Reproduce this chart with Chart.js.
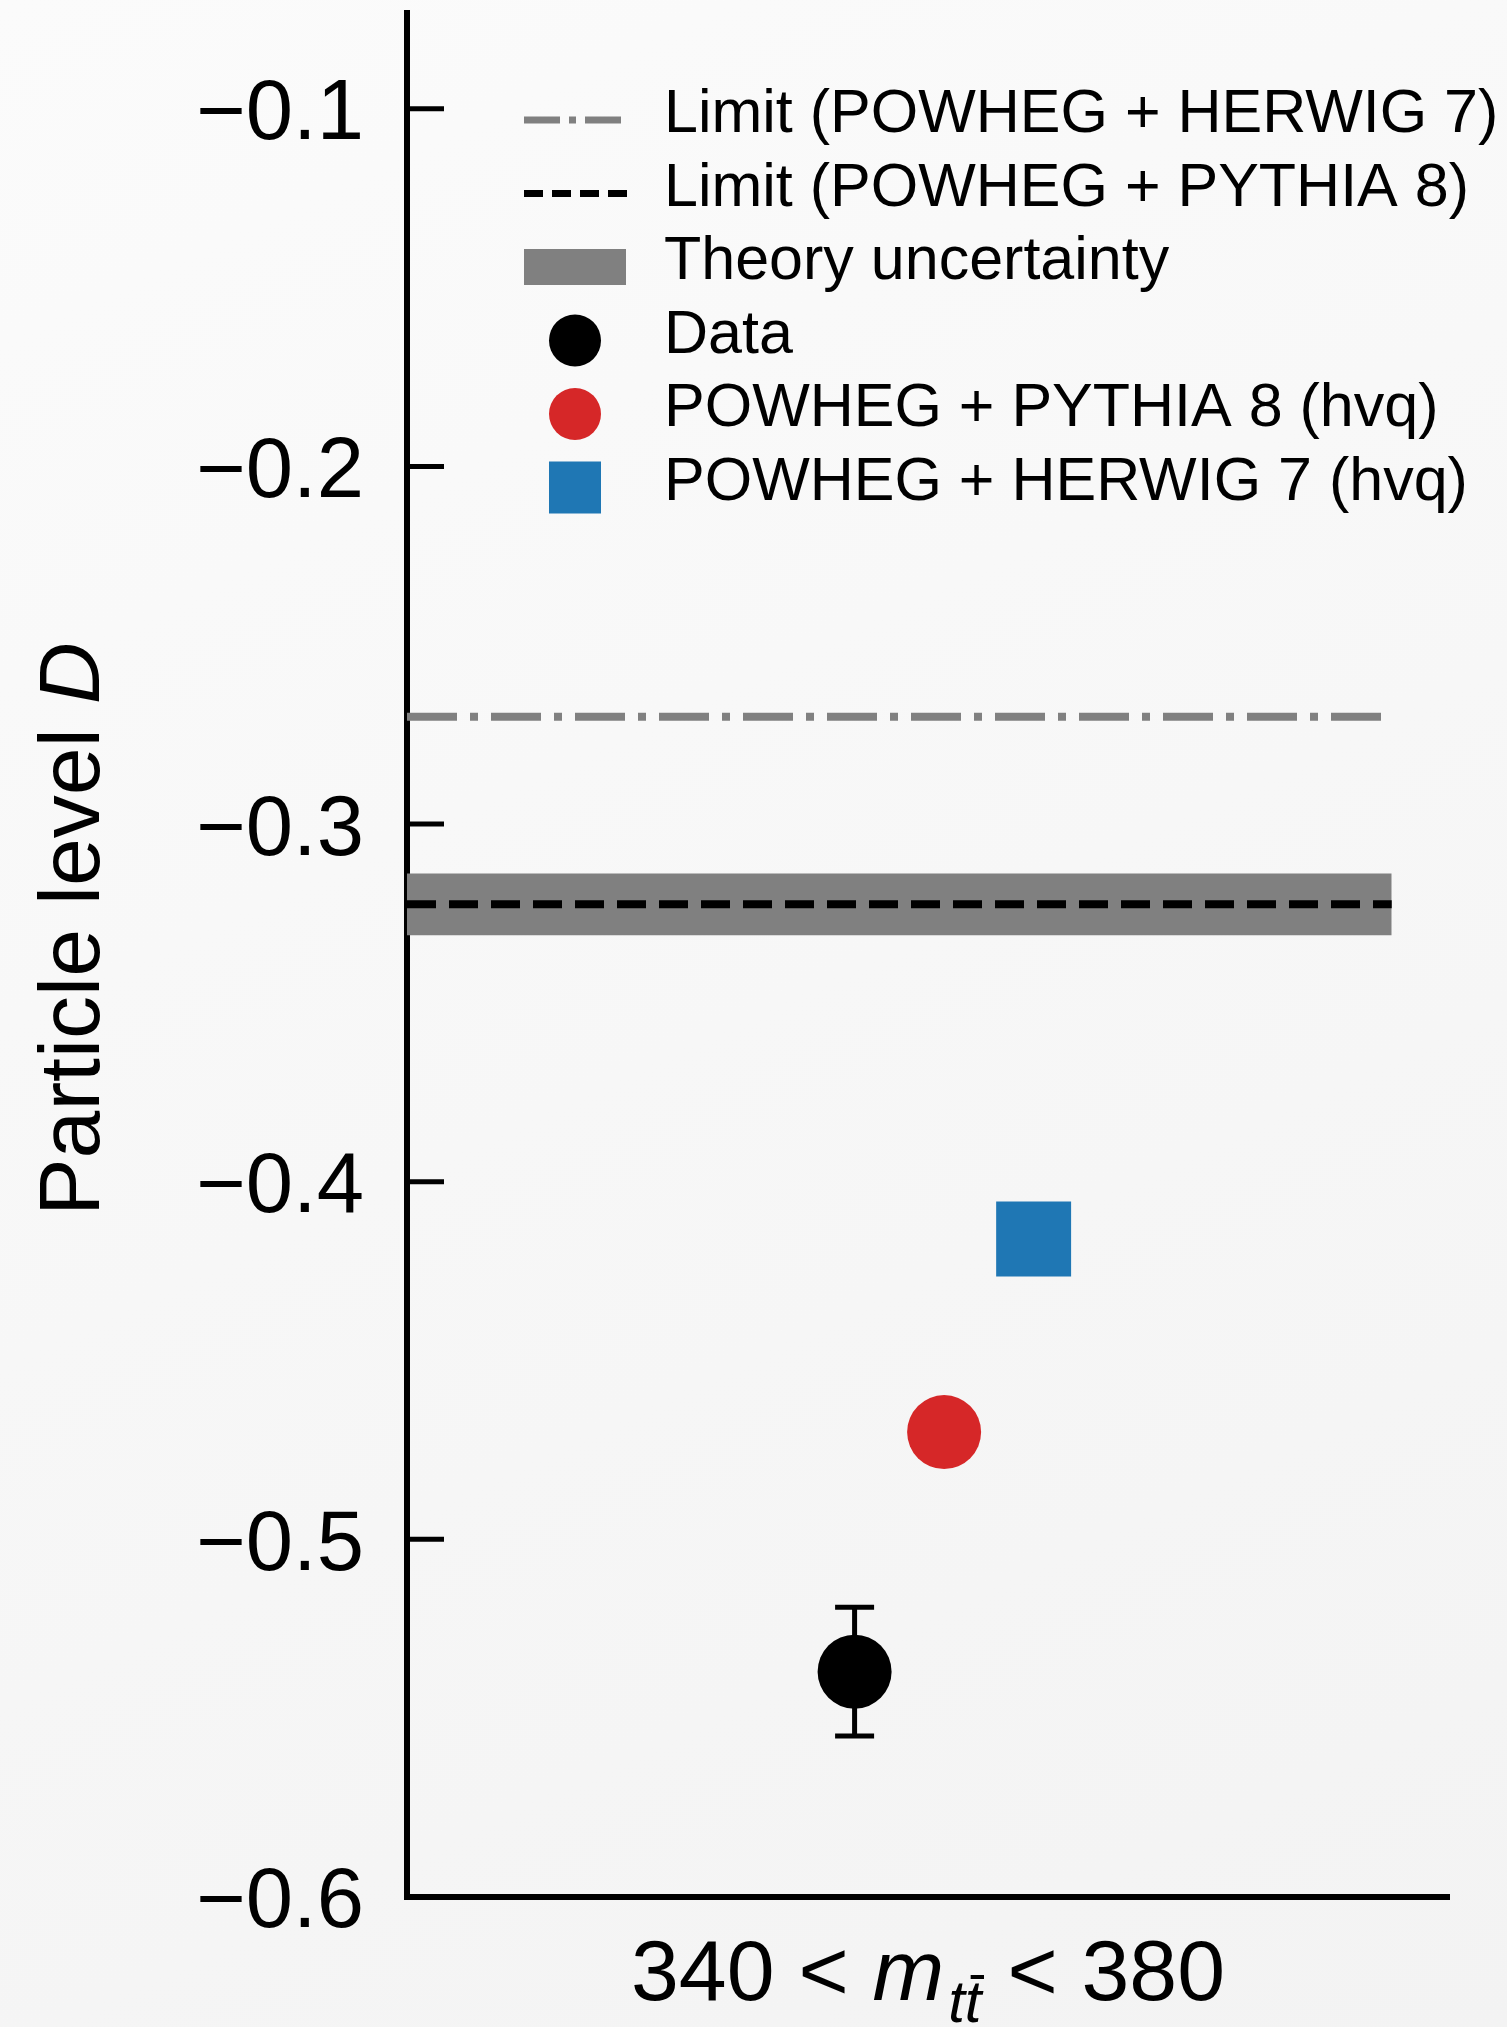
<!DOCTYPE html>
<html>
<head>
<meta charset="utf-8">
<script src="https://cdn.jsdelivr.net/npm/chart.js@4.4.1/dist/chart.umd.min.js"></script>
<style>
  html, body { margin: 0; padding: 0; }
  body {
    width: 1507px; height: 2027px; overflow: hidden;
    background: linear-gradient(155deg, #fbfbfb 0%, #f3f3f3 100%);
  }
  #wrap { position: relative; width: 1507px; height: 2027px; }
</style>
</head>
<body>
<div id="wrap"><canvas id="chart"></canvas></div>
<script>
// bin shown on the x axis
const binEdges = [340, 380];
// x positions (arbitrary offsets inside the single bin)
const pointX = [0, 0.1, 0.2];
const lineX = [-0.5, 0.6];

// values
const dataD = [-0.537];
const dataErr = [0.018];
const pythiaD = [-0.470];
const herwigD = [-0.416];
const limitHerwig = [-0.270, -0.270];
const limitPythia = [-0.3224, -0.3224];
const theoryUp = [-0.3138, -0.3138];
const theoryDown = [-0.3311, -0.3311];

const yTicks = [-0.6, -0.5, -0.4, -0.3, -0.2, -0.1];
const seriesLabels = [
  'Limit (POWHEG + HERWIG 7)',
  'Limit (POWHEG + PYTHIA 8)',
  'Theory uncertainty',
  'Data',
  'POWHEG + PYTHIA 8 (hvq)',
  'POWHEG + HERWIG 7 (hvq)'
];

const fam = '"Liberation Sans", Arial, Helvetica, sans-serif';
const GRAY = '#808080', RED = '#d62728', BLUE = '#1f77b4';

const toXY = (xs, ys) => xs.map((x, i) => ({ x: x, y: ys[i] }));

const decor = {
  id: 'decor',
  afterDraw(chart) {
    const { ctx, chartArea: a, scales: { x, y } } = chart;
    ctx.save();

    // inward y ticks
    ctx.strokeStyle = '#000';
    ctx.lineWidth = 5;
    yTicks.forEach(v => {
      const py = y.getPixelForValue(v);
      ctx.beginPath();
      ctx.moveTo(a.left, py);
      ctx.lineTo(a.left + 37, py);
      ctx.stroke();
    });

    // data error bar
    const ex = x.getPixelForValue(pointX[0]);
    const yHi = y.getPixelForValue(dataD[0] + dataErr[0]);
    const yLo = y.getPixelForValue(dataD[0] - dataErr[0]);
    ctx.lineWidth = 5;
    ctx.beginPath();
    ctx.moveTo(ex, yHi); ctx.lineTo(ex, yLo);
    ctx.moveTo(ex - 19.5, yHi); ctx.lineTo(ex + 19.5, yHi);
    ctx.moveTo(ex - 19.5, yLo); ctx.lineTo(ex + 19.5, yLo);
    ctx.stroke();

    // legend
    const lx = 524, rowY = 120, rowH = 73.5, textX = 664, mx = 575;
    ctx.textAlign = 'left';
    ctx.textBaseline = 'alphabetic';
    seriesLabels.forEach((label, i) => {
      const cy = rowY + rowH * i;
      ctx.save();
      if (i === 0 || i === 1) {
        ctx.strokeStyle = i === 0 ? GRAY : '#000';
        ctx.lineWidth = 7;
        ctx.setLineDash(i === 0 ? [36, 9, 7, 9] : [19, 9]);
        ctx.beginPath();
        ctx.moveTo(lx, cy);
        ctx.lineTo(lx + (i === 0 ? 98 : 103), cy);
        ctx.stroke();
      } else if (i === 2) {
        ctx.fillStyle = GRAY;
        ctx.fillRect(lx, cy - 18, 102, 36);
      } else if (i === 3 || i === 4) {
        ctx.fillStyle = i === 3 ? '#000' : RED;
        ctx.beginPath();
        ctx.arc(mx, cy, 26, 0, Math.PI * 2);
        ctx.fill();
      } else {
        ctx.fillStyle = BLUE;
        ctx.fillRect(mx - 26, cy - 26, 52, 52);
      }
      ctx.restore();
      ctx.fillStyle = '#000';
      ctx.font = `61px ${fam}`;
      ctx.fillText(label, textX, cy + 12);
    });

    // y title: Particle level D
    ctx.save();
    ctx.translate(99, 929);
    ctx.rotate(-Math.PI / 2);
    const tA = 'Particle level ', tB = 'D';
    ctx.font = `86px ${fam}`;
    const wA = ctx.measureText(tA).width;
    ctx.font = `italic 86px ${fam}`;
    const wB = ctx.measureText(tB).width;
    const sx = -(wA + wB) / 2;
    ctx.fillStyle = '#000';
    ctx.font = `86px ${fam}`;
    ctx.fillText(tA, sx, 0);
    ctx.font = `italic 86px ${fam}`;
    ctx.fillText(tB, sx + wA, 0);
    ctx.restore();

    // x label: 340 < m_{t tbar} < 380
    const base = 2000, cx = (a.left + a.right) / 2;
    const parts = [
      { t: binEdges[0] + ' < ', f: `86px ${fam}`, dy: 0, pad: 0 },
      { t: 'm', f: `italic 86px ${fam}`, dy: 0, pad: 0 },
      { t: 'tt', f: `italic 60px ${fam}`, dy: 22, pad: 4 },
      { t: ' < ' + binEdges[1], f: `86px ${fam}`, dy: 0, pad: 2 }
    ];
    let total = 0;
    parts.forEach(p => { ctx.font = p.f; p.w = ctx.measureText(p.t).width; total += p.w + p.pad; });
    let px = cx - total / 2;
    ctx.fillStyle = '#000';
    parts.forEach(p => {
      px += p.pad;
      ctx.font = p.f;
      ctx.fillText(p.t, px, base + p.dy);
      if (p.t === 'tt') {
        const tw = ctx.measureText('t').width;
        ctx.fillRect(px + tw + tw * 0.35, base + p.dy - 47, tw * 0.8, 4);
      }
      px += p.w;
    });

    ctx.restore();
  }
};

const ctx = document.getElementById('chart').getContext('2d');
new Chart(ctx, {
  type: 'scatter',
  data: {
    datasets: [
      {
        label: seriesLabels[3],
        data: toXY([pointX[0]], dataD),
        pointStyle: 'circle', pointRadius: 37, pointBorderWidth: 0,
        backgroundColor: '#000', borderColor: '#000', order: 0
      },
      {
        label: seriesLabels[4],
        data: toXY([pointX[1]], pythiaD),
        pointStyle: 'circle', pointRadius: 37, pointBorderWidth: 0,
        backgroundColor: RED, borderColor: RED, order: 0
      },
      {
        label: seriesLabels[5],
        data: toXY([pointX[2]], herwigD),
        pointStyle: 'rect', pointRadius: 53, pointBorderWidth: 0,
        backgroundColor: BLUE, borderColor: BLUE, order: 0
      },
      {
        type: 'line', label: seriesLabels[0],
        data: toXY(lineX, limitHerwig),
        borderColor: GRAY, borderWidth: 8, borderDash: [50, 13, 8, 13],
        pointRadius: 0, fill: false, order: 1
      },
      {
        type: 'line', label: seriesLabels[1],
        data: toXY(lineX, limitPythia),
        borderColor: '#000', borderWidth: 8, borderDash: [29, 13],
        pointRadius: 0, fill: false, order: 1
      },
      {
        type: 'line', label: seriesLabels[2],
        data: toXY(lineX, theoryUp),
        borderWidth: 0, borderColor: GRAY, backgroundColor: GRAY,
        pointRadius: 0, fill: '+1', order: 2
      },
      {
        type: 'line', label: seriesLabels[2] + ' low',
        data: toXY(lineX, theoryDown),
        borderWidth: 0, borderColor: GRAY, backgroundColor: GRAY,
        pointRadius: 0, fill: false, order: 2
      }
    ]
  },
  options: {
    responsive: true,
    maintainAspectRatio: false,
    devicePixelRatio: 1,
    animation: false,
    layout: { autoPadding: false, padding: { top: 13, right: 58, bottom: 0, left: 0 } },
    plugins: { legend: { display: false }, tooltip: { enabled: false } },
    scales: {
      x: {
        type: 'linear', min: -0.5, max: 0.664,
        grid: { display: false, drawTicks: false },
        border: { display: true, color: '#000', width: 6 },
        ticks: { display: false },
        afterFit: s => { s.height = 130; s.paddingLeft = 0; s.paddingRight = 0; }
      },
      y: {
        type: 'linear', min: -0.6, max: -0.0732,
        grid: { display: false, drawTicks: false },
        border: { display: true, color: '#000', width: 6 },
        afterBuildTicks: s => { s.ticks = yTicks.map(v => ({ value: v })); },
        ticks: {
          color: '#000', padding: 43, labelOffset: 7,
          font: { family: fam, size: 85, lineHeight: 0.2 },
          callback: v => '\u2212' + Math.abs(v).toFixed(1)
        },
        afterFit: s => { s.width = 407; s.paddingTop = 0; s.paddingBottom = 0; }
      }
    }
  },
  plugins: [decor]
});
</script>
</body>
</html>
